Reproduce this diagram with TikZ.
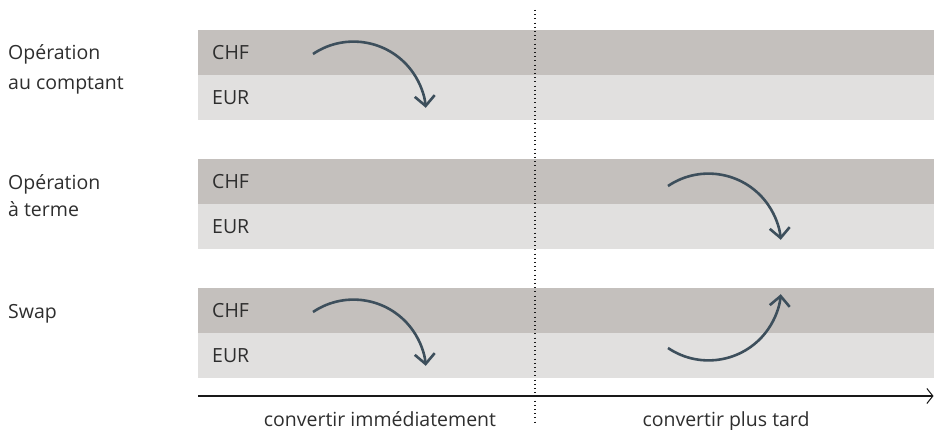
\documentclass[tikz,border=0pt]{standalone}
\usepackage{fontspec}
\setmainfont{Open Sans}
\usetikzlibrary{arrows.meta}
\definecolor{banddark}{HTML}{C4C0BD}
\definecolor{bandlight}{HTML}{E1E0DF}
\definecolor{arrowc}{HTML}{3D4F5C}
\definecolor{txtc}{HTML}{2E2E2E}
\tikzset{
  darkband/.style={fill=banddark, draw=none},
  lightband/.style={fill=bandlight, draw=none},
  lbl/.style={inner sep=0pt, anchor=base west, text=txtc, font=\fontsize{19.5}{24}\selectfont},
  cur/.style={inner sep=0pt, anchor=west, text=txtc, font=\fontsize{19.5}{24}\selectfont},
  axlbl/.style={inner sep=0pt, anchor=base, text=txtc, font=\fontsize{19.5}{24}\selectfont},
  conv/.style={draw=arrowc, line width=2.6pt, -{Straight Barb[length=10pt,width=20pt]}},
  axis/.style={draw=black!90, line width=1.1pt, -{Straight Barb[length=6pt,width=15pt,line width=1pt]}},
  divider/.style={draw=black!90, line width=1.2pt, dash pattern=on 1pt off 3.2pt}
}
\begin{document}
\begin{tikzpicture}[x=1pt,y=-1pt]
\useasboundingbox (0,0) rectangle (934,430);
% bands
\foreach \t in {30,159,288}{
  \fill[darkband] (198,\t) rectangle (934,\t+45);
  \fill[lightband] (198,\t+45) rectangle (934,\t+90);
}
% divider
\coordinate (dtop) at (535,10);
\coordinate (dbot) at (535,425);
\draw[divider] (dtop) -- (dbot);
% row labels
\node[lbl] (r1a) at (8,60) {Opération};
\node[lbl] (r1b) at (8,90) {au comptant};
\node[lbl] (r2a) at (8,190) {Opération};
\node[lbl] (r2b) at (8,217) {à terme};
\node[lbl] (r3a) at (8,318) {Swap};
% currencies
\node[cur] (c1) at (212,52.5) {CHF};
\node[cur] (e1) at (212,97.5) {EUR};
\node[cur] (c2) at (212,181.5) {CHF};
\node[cur] (e2) at (212,226.5) {EUR};
\node[cur] (c3) at (212,310.5) {CHF};
\node[cur] (e3) at (212,355.5) {EUR};
% arrows
\coordinate (s1) at (313,54);
\coordinate (s2) at (668,186);
\coordinate (s3) at (313,312);
\coordinate (s4) at (668,348);
\draw[conv] (s1) arc[start angle=-124, end angle=-5, radius=72.5];
\draw[conv] (s2) arc[start angle=-124, end angle=-5, radius=72.5];
\draw[conv] (s3) arc[start angle=-124, end angle=-5, radius=72.5];
\draw[conv] (s4) arc[start angle=124, end angle=5, radius=72.5];
% axis
\coordinate (ax0) at (198,396);
\coordinate (ax1) at (933.5,396);
\draw[axis] (ax0) -- (ax1);
\node[axlbl] (now) at (380,426) {convertir immédiatement};
\node[axlbl] (later) at (726,426) {convertir plus tard};
\end{tikzpicture}
\end{document}
